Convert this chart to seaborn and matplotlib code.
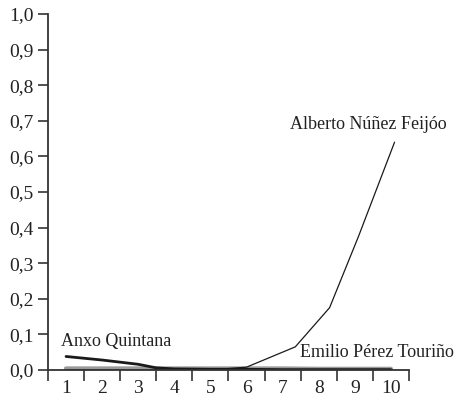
import pandas as pd
import numpy as np
import matplotlib.pyplot as plt
import seaborn as sns
from matplotlib.ticker import FixedLocator, NullFormatter

# ===============================
# Data
# ===============================

feijoo_x = [1, 2, 3, 4, 5, 6, 7.35, 8.3, 9.1, 10.1]
feijoo_y = [0.0, 0.0, 0.0, 0.0, 0.0, 0.008, 0.065, 0.175, 0.375, 0.64]

anxo_x = [1, 2, 3, 3.5, 4, 5, 6, 7, 8, 9, 10]
anxo_y = [0.038, 0.028, 0.016, 0.006, 0.003, 0.002, 0.002, 0.001, 0.001, 0.001, 0.001]

emilio_x = [1, 2, 3, 4, 5, 6, 7, 8, 9, 10]
emilio_y = [0.004, 0.004, 0.004, 0.004, 0.004, 0.004, 0.004, 0.003, 0.003, 0.003]

x_labels = ["1", "2", "3", "4", "5", "6", "7", "8", "9", "10"]
y_ticks = [0.0, 0.1, 0.2, 0.3, 0.4, 0.5, 0.6, 0.7, 0.8, 0.9, 1.0]
y_labels = ["0,0", "0,1", "0,2", "0,3", "0,4", "0,5", "0,6", "0,7", "0,8", "0,9", "1,0"]

# ===============================
# Style
# ===============================

sns.set_style("white")
plt.rcParams["font.family"] = ["Liberation Serif", "DejaVu Serif"]

fig = plt.figure(figsize=(4.64, 4.04), dpi=100)
ax = fig.add_axes([48 / 464, 34 / 404, 361 / 464, 356 / 404])

# ===============================
# Lines
# ===============================

sns.lineplot(x=emilio_x, y=emilio_y, ax=ax, color="#9a9a9a", linewidth=3.2)
sns.lineplot(x=anxo_x, y=anxo_y, ax=ax, color="#1a1a1a", linewidth=2.0)
sns.lineplot(x=feijoo_x, y=feijoo_y, ax=ax, color="#1a1a1a", linewidth=0.9)

# ===============================
# Labels
# ===============================

ax.text(0.86, 0.079, "Anxo Quintana", fontsize=13, color="#222222", va="center")
ax.text(7.48, 0.05, "Emilio Pérez Touriño", fontsize=13, color="#222222", va="center")
ax.text(7.2, 0.69, "Alberto Núñez Feijóo", fontsize=13, color="#222222", va="center")

# ===============================
# Axes
# ===============================

ax.set_xlim(0.5, 10.5)
ax.set_ylim(0, 1.0)

ax.xaxis.set_major_locator(FixedLocator(np.arange(0.5, 11.0, 1.0)))
ax.xaxis.set_major_formatter(NullFormatter())
ax.xaxis.set_minor_locator(FixedLocator(np.arange(1, 11)))
ax.set_xticklabels(x_labels, minor=True)
ax.tick_params(axis="x", which="major", direction="out", length=8,
               width=1.2, color="#333333", bottom=True)
ax.tick_params(axis="x", which="minor", length=0, labelsize=14,
               pad=7, labelcolor="#222222", bottom=True)

ax.set_yticks(y_ticks)
ax.set_yticklabels(y_labels)
ax.tick_params(axis="y", direction="out", length=7, width=1.2,
               color="#333333", labelsize=14, labelcolor="#222222", left=True)

sns.despine(ax=ax)
for side in ["left", "bottom"]:
    ax.spines[side].set_color("#333333")
    ax.spines[side].set_linewidth(1.3)

ax.set_xlabel("")
ax.set_ylabel("")

plt.savefig("out.png", dpi=100)
plt.close()
